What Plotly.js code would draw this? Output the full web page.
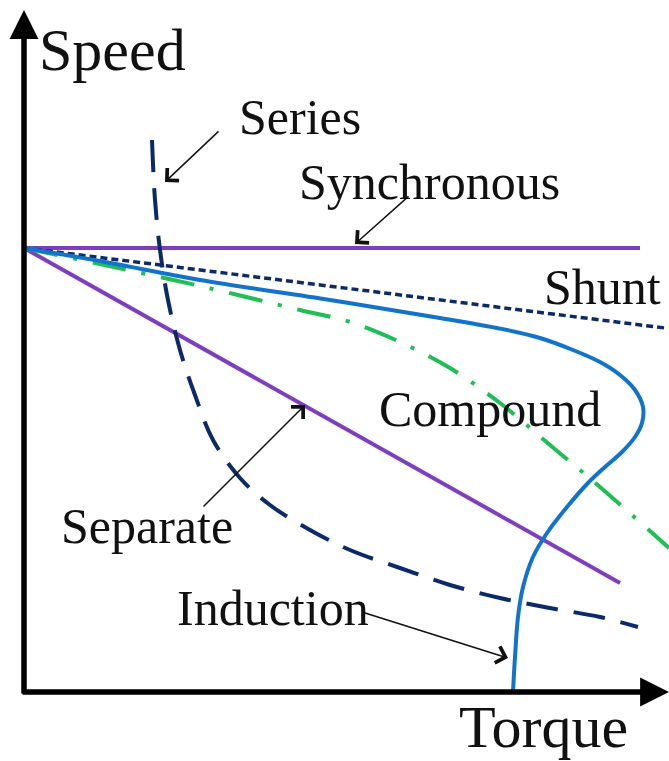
<!DOCTYPE html>
<html>
<head>
<meta charset="utf-8">
<script src="https://cdn.plot.ly/plotly-3.0.1.min.js"></script>
<style>html,body{margin:0;padding:0;background:#fff;}#chart{width:669px;height:761px;}</style>
</head>
<body>
<div id="chart"></div>
<script>
// Data (torque vs speed, arbitrary units)
const synchronousTorque = [0, 616];
const synchronousSpeed  = [444, 444];

const shuntTorque = [0, 320, 641];
const shuntSpeed  = [444, 404, 364];

const separateTorque = [0, 596];
const separateSpeed  = [444, 109];

const compoundTorque = [0, 76, 176, 276, 326, 376, 426, 476, 526, 576, 645];
const compoundSpeed  = [444, 428, 406, 382, 370, 350, 324, 289, 247, 205, 144];

const inductionTorque = [0, 76, 176, 306, 416, 483, 516, 549, 576, 596, 611, 619, 618, 611, 598, 581, 564, 543, 523, 509, 499, 494, 491, 489];
const inductionSpeed  = [444, 431, 412, 392, 374, 362, 354, 342, 330, 317, 302, 285, 269, 255, 240, 225, 209, 185, 159, 135, 105, 75, 35, 0];

const seriesTorque = [128, 131, 136, 144, 156, 171, 189, 216, 246, 286, 326, 376, 426, 476, 526, 576, 614];
const seriesSpeed  = [552, 492, 442, 392, 342, 297, 252, 214, 187, 162, 142, 124, 107, 94, 84, 75, 65];

const labels = ["Speed", "Torque", "Series", "Synchronous", "Shunt", "Compound", "Separate", "Induction"];

const purple = "#7E3FBE";
const navy = "#0C2A6A";
const blue = "#1273CC";
const green = "#1FBF55";

const traces = [
  {x: synchronousTorque, y: synchronousSpeed, mode: "lines", line: {color: purple, width: 4}},
  {x: separateTorque, y: separateSpeed, mode: "lines", line: {color: purple, width: 4}},
  {x: shuntTorque, y: shuntSpeed, mode: "lines", line: {color: navy, width: 3.5, dash: "7px,4px"}},
  {x: compoundTorque, y: compoundSpeed, mode: "lines", line: {color: green, width: 4, dash: "34px,16px,4px,16px", shape: "spline"}},
  {x: inductionTorque, y: inductionSpeed, mode: "lines", line: {color: blue, width: 4, shape: "spline", smoothing: 1}},
  {x: seriesTorque, y: seriesSpeed, mode: "lines", line: {color: navy, width: 4, dash: "32px,16px", shape: "spline"}}
];

const serif = "Liberation Serif, Times New Roman, serif";
function label(text, x, y, size, yanchor) {
  return {text: text, x: x, y: y, xref: "x", yref: "y", xanchor: "left", yanchor: yanchor || "middle",
          borderpad: 0, showarrow: false, font: {family: serif, size: size, color: "#111"}};
}
function pointer(tx, ty, hx, hy) {
  return {x: hx, y: hy, ax: tx, ay: ty, axref: "x", ayref: "y", xref: "x", yref: "y", text: "",
          showarrow: true, arrowhead: 4, arrowsize: 2.2, arrowwidth: 1.5, arrowcolor: "#111"};
}

const annotations = [
  // axes
  {x: 0, y: 682, ax: 0, ay: -3, axref: "x", ayref: "y", xref: "x", yref: "y", text: "",
   showarrow: true, arrowhead: 2, arrowsize: 1.05, arrowwidth: 5.5, arrowcolor: "#000"},
  {x: 645, y: 0, ax: -3, ay: 0, axref: "x", ayref: "y", xref: "x", yref: "y", text: "",
   showarrow: true, arrowhead: 2, arrowsize: 1.05, arrowwidth: 5.5, arrowcolor: "#000"},
  label(labels[0], 14, 642, 60),
  label(labels[1], 434, -69, 60, "bottom"),
  label(labels[2], 214, 575, 50),
  label(labels[3], 274, 510, 50),
  label(labels[4], 519, 405, 50),
  label(labels[5], 354, 283, 50),
  label(labels[6], 36, 166, 50),
  label(labels[7], 152, 84, 50),
  pointer(196, 562, 141, 510),
  pointer(386, 497, 331, 448),
  pointer(178, 184, 281, 287),
  pointer(338, 80, 484, 34)
];

const layout = {
  width: 669, height: 761,
  margin: {l: 0, r: 0, t: 0, b: 0},
  paper_bgcolor: "#fff", plot_bgcolor: "#fff",
  showlegend: false,
  xaxis: {range: [-24, 645], visible: false, fixedrange: true},
  yaxis: {range: [-69, 692], visible: false, fixedrange: true},
  annotations: annotations
};

Plotly.newPlot("chart", traces, layout, {displayModeBar: false, staticPlot: true});
</script>
</body>
</html>
